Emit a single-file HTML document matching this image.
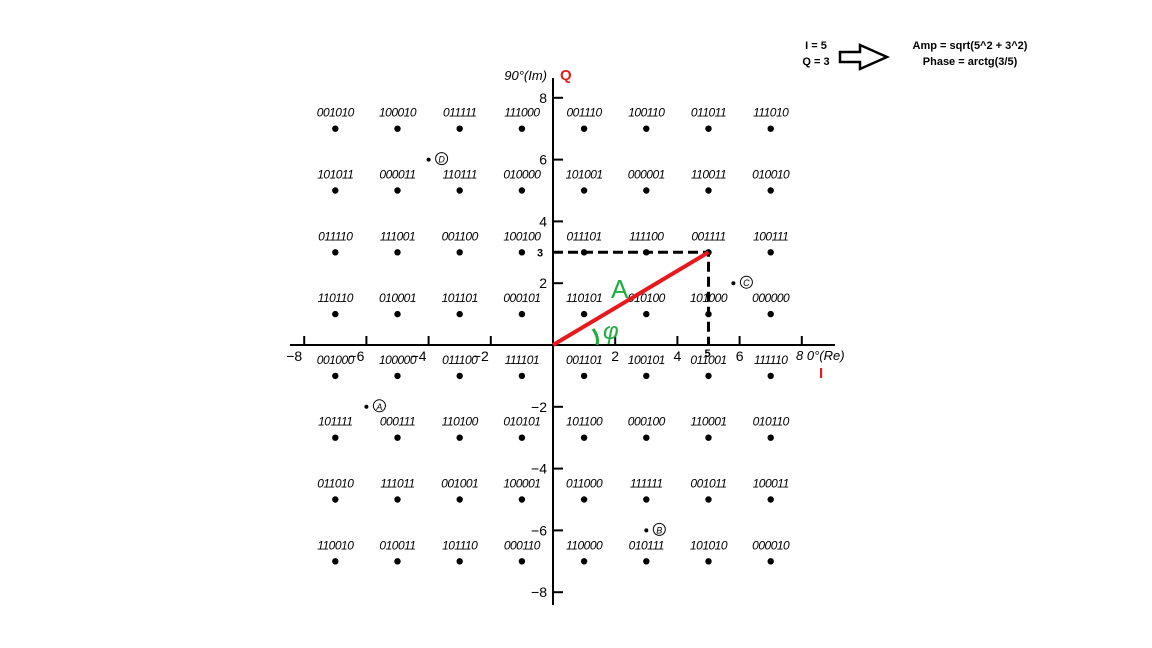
<!DOCTYPE html>
<html><head><meta charset="utf-8"><style>
body{margin:0;background:#fff;width:1152px;height:648px;overflow:hidden}
svg{display:block;font-family:"Liberation Sans",sans-serif}
</style></head><body>
<svg width="1152" height="648">
<g id="g"></g>
<text x="816" y="49" font-size="11" font-weight="bold" text-anchor="middle">I = 5</text>
<text x="816" y="65" font-size="11" font-weight="bold" text-anchor="middle">Q = 3</text>
<path d="M840,52 h20 v-7 l27,12 l-27,12 v-7 h-20 z" fill="#fff" stroke="#000" stroke-width="2.5"/>
<text x="970" y="49" font-size="11" font-weight="bold" text-anchor="middle">Amp = sqrt(5^2 + 3^2)</text>
<text x="970" y="65" font-size="11" font-weight="bold" text-anchor="middle">Phase = arctg(3/5)</text>
</svg>
<script>
const xVals=[-7,-5,-3,-1,1,3,5,7];
const yVals=[7,5,3,1,-1,-3,-5,-7];
const codes=[
["001010","100010","011111","111000","001110","100110","011011","111010"],
["101011","000011","110111","010000","101001","000001","110011","010010"],
["011110","111001","001100","100100","011101","111100","001111","100111"],
["110110","010001","101101","000101","110101","010100","101000","000000"],
["001000","100000","011100","111101","001101","100101","011001","111110"],
["101111","000111","110100","010101","101100","000100","110001","010110"],
["011010","111011","001001","100001","011000","111111","001011","100011"],
["110010","010011","101110","000110","110000","010111","101010","000010"]];
const xTicks=[-8,-6,-4,-2,2,4,6,8];
const yTicks=[8,6,4,2,-2,-4,-6,-8];
const markers=[["A",-6,-2],["B",3,-6],["C",5.8,2],["D",-4,6]];
const vecI=5, vecQ=3;
const ox=553, oy=345, ux=31.1, uy=30.9;
const X=v=>ox+v*ux, Y=v=>oy-v*uy;
const g=document.getElementById('g');
const NS='http://www.w3.org/2000/svg';
function mk(t,a,txt){const e=document.createElementNS(NS,t);for(const k in a)e.setAttribute(k,a[k]);if(txt!=null)e.textContent=txt;g.appendChild(e);return e;}
let e;
e=mk('line',{x1:290,y1:oy,x2:835,y2:oy,stroke:'#000','stroke-width':2});


e=mk('line',{x1:ox,y1:78,x2:ox,y2:605,stroke:'#000','stroke-width':2});


xTicks.forEach(t=>{
 e=mk('line',{x1:X(t),y1:oy-9,x2:X(t),y2:oy,stroke:'#000','stroke-width':2});
 
 
 if(t===8)return;
 e=mk('text',{x:X(t)-(t<0?10:0),y:oy+16,'font-size':14,'text-anchor':'middle'},t<0?'\u2212'+(-t):String(t));
 
 
});
yTicks.forEach(t=>{
 e=mk('line',{x1:ox,y1:Y(t),x2:ox+10,y2:Y(t),stroke:'#000','stroke-width':2});
 
 
 e=mk('text',{x:ox-6,y:Y(t)+5,'font-size':14,'text-anchor':'end'},t<0?'\u2212'+(-t):String(t));
 
 
});
e=mk('text',{x:ox-6,y:80,'font-size':13,'text-anchor':'end','font-style':'italic'},'90°(Im)');


e=mk('text',{x:ox+7,y:80,'font-size':15,'font-weight':'bold',fill:'#e02020'},'Q');


e=mk('text',{x:796,y:360,'font-size':13,'font-style':'italic'},'8 0°(Re)');


e=mk('text',{x:819,y:378,'font-size':15,'font-weight':'bold',fill:'#e02020'},'I');


yVals.forEach((yv,r)=>xVals.forEach((xv,c)=>{
 e=mk('circle',{cx:X(xv),cy:Y(yv),r:3.2,fill:'#000'});
 
 
 e=mk('text',{x:X(xv),y:Y(yv)-12,'font-size':12,'text-anchor':'middle','font-style':'italic','letter-spacing':'-0.5'},codes[r][c]);
 
 
}));
markers.forEach(m=>{
 e=mk('circle',{cx:X(m[1]),cy:Y(m[2]),r:2,fill:'#000'});
 
 
 e=mk('circle',{cx:X(m[1])+13,cy:Y(m[2])-1,r:6,fill:'none',stroke:'#000','stroke-width':1});
 
 
 e=mk('text',{x:X(m[1])+13,y:Y(m[2])+3,'font-size':9,'text-anchor':'middle','font-style':'italic'},m[0]);
 
 
});
e=mk('path',{d:`M${ox},${Y(vecQ)} H${X(vecI)} V${oy}`,fill:'none',stroke:'#000','stroke-width':3,'stroke-dasharray':'10,5'});


e=mk('text',{x:X(vecI)-4,y:oy+12,'font-size':11,'font-weight':'bold'},String(vecI));


e=mk('text',{x:ox-16,y:Y(vecQ)+4,'font-size':11,'font-weight':'bold'},String(vecQ));


e=mk('line',{x1:ox,y1:oy,x2:X(vecI),y2:Y(vecQ),stroke:'#e8191c','stroke-width':4});


e=mk('path',{d:`M${ox+40},${oy-16} Q${ox+46},${oy-8} ${ox+44},${oy}`,fill:'none',stroke:'#1fae3f','stroke-width':3});


e=mk('text',{x:ox+50,y:oy-6,'font-size':24,fill:'#1fae3f','font-style':'italic'},'φ');


e=mk('text',{x:ox+58,y:oy-47,'font-size':26,fill:'#1fae3f'},'A');


</script>
</body></html>
